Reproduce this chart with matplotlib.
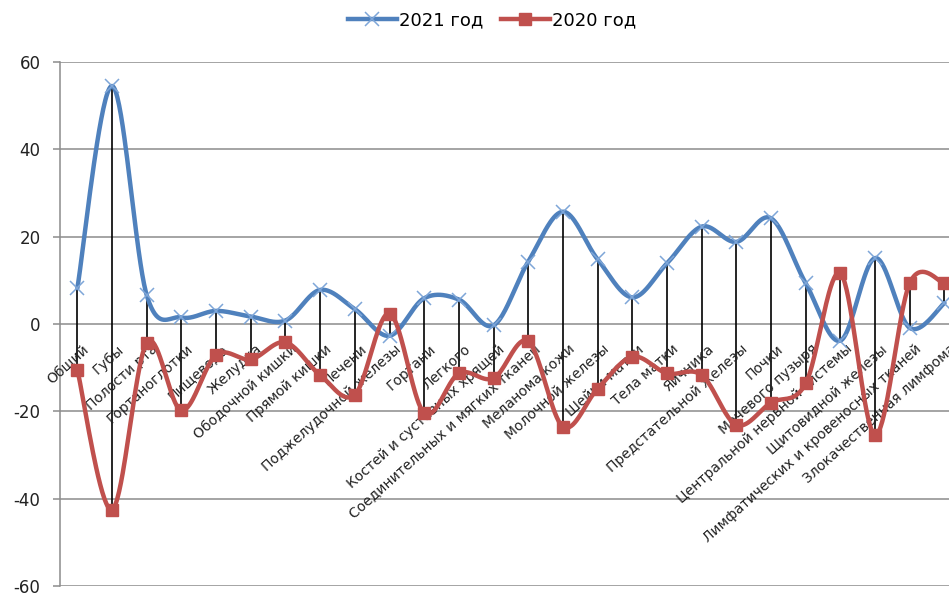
import numpy as np
import matplotlib
matplotlib.use("Agg")
import matplotlib.pyplot as plt
from matplotlib.lines import Line2D

categories = [
    "Общий", "Губы", "Полости рта", "Гортаноглотки", "Пищевода", "Желудка",
    "Ободочной кишки", "Прямой кишки", "Печени", "Поджелудочной железы",
    "Гортани", "Легкого", "Костей и суставных хрящей",
    "Соединительных и мягких тканей", "Меланома кожи", "Молочной железы",
    "Шейки матки", "Тела матки", "Яичника", "Предстательной железы", "Почки",
    "Мочевого пузыря", "Центральной нервной системы", "Щитовидной железы",
    "Лимфатических и кровеносных тканей", "Злокачественная лимфома",
]
values_2021 = [8.2, 54.5, 6.6, 1.5, 3.0, 1.7, 0.8, 7.8, 3.4, -2.7, 5.9, 5.6,
               -0.3, 14.3, 25.7, 14.8, 6.1, 13.9, 22.3, 18.8, 24.2, 9.3,
               -3.8, 15.1, -0.9, 4.8]
values_2020 = [-10.5, -42.5, -4.3, -19.8, -7.1, -8.1, -4.2, -11.7, -16.2, 2.4,
               -20.4, -11.3, -12.4, -4.0, -23.5, -14.8, -7.5, -11.3, -11.7,
               -23.1, -18.0, -13.6, 11.6, -25.4, 9.4, 9.3]
series_names = ["2021 год", "2020 год"]
yticks = [-60, -40, -20, 0, 20, 40, 60]

BLUE = "#4F81BD"
BLUE_MARK = "#7EA6D8"
RED = "#C0504D"
GRID = "#8C8C8C"


def smooth(x, y, n=40):
    # excel-like smoothed line: bezier through points, control points from neighbours
    pts = np.column_stack([x, y]).astype(float)
    ext = np.vstack([pts[0], pts, pts[-1]])
    t = np.linspace(0, 1, n)[:, None]
    segs = []
    for i in range(len(pts) - 1):
        p0, p1, p2, p3 = ext[i], ext[i + 1], ext[i + 2], ext[i + 3]
        c1 = p1 + (p2 - p0) / 6
        c2 = p2 - (p3 - p1) / 6
        segs.append((1 - t) ** 3 * p1 + 3 * (1 - t) ** 2 * t * c1
                    + 3 * (1 - t) * t ** 2 * c2 + t ** 3 * p2)
    out = np.vstack(segs)
    return out[:, 0], out[:, 1]


x = np.arange(len(categories))
v21 = np.array(values_2021)
v20 = np.array(values_2020)

fig = plt.figure(figsize=(9.49, 5.94), dpi=100)
ax = fig.add_axes([60 / 949, 8 / 594, 1 - 60 / 949, (586 - 62) / 594])

ax.set_ylim(-60, 60)
ax.set_xlim(-0.5, 25.13)
ax.set_yticks(yticks)
ax.set_yticklabels([str(v) for v in yticks], fontsize=12, color="#222222")
ax.set_xticks([])
ax.yaxis.grid(True, color=GRID, linewidth=1.1)
ax.set_axisbelow(True)
for side in ["top", "right", "bottom"]:
    ax.spines[side].set_visible(False)
ax.spines["left"].set_color(GRID)
ax.spines["left"].set_linewidth(1.1)
ax.tick_params(axis="y", length=5, width=1.1, color=GRID, pad=9)

# high-low lines
ax.vlines(x, np.minimum(v21, v20), np.maximum(v21, v20), color="black",
          linewidth=1.2, zorder=2)

sx, sy = smooth(x, v21)
ax.plot(sx, sy, color=BLUE, linewidth=3.2, zorder=3, clip_on=False,
        solid_capstyle="round")
ax.plot(x, v21, linestyle="none", marker="x", markersize=10,
        markeredgewidth=1.1, color=BLUE_MARK, zorder=4, clip_on=False)

sx, sy = smooth(x, v20)
ax.plot(sx, sy, color=RED, linewidth=3.2, zorder=5, clip_on=False,
        solid_capstyle="round")
ax.plot(x, v20, linestyle="none", marker="s", markersize=8.5,
        color=RED, zorder=6, clip_on=False)

# category labels hanging from the zero line
for xi, name in zip(x, categories):
    ax.annotate(name, xy=(xi, 0), xytext=(5, -18), textcoords="offset pixels",
                rotation=42, rotation_mode="anchor", ha="right", va="top",
                fontsize=10, color="#222222")

handles = [
    Line2D([], [], color=BLUE, linewidth=3.2, marker="x", markersize=10,
           markeredgecolor=BLUE_MARK, markeredgewidth=1.1),
    Line2D([], [], color=RED, linewidth=3.2, marker="s", markersize=8.5),
]
fig.legend(handles, series_names, loc="center",
           bbox_to_anchor=(492 / 949, 1 - 20 / 594),
           ncol=2, frameon=False, fontsize=13, handlelength=2.7,
           handletextpad=0.1, columnspacing=1.0)

fig.savefig("out.png", dpi=100)
